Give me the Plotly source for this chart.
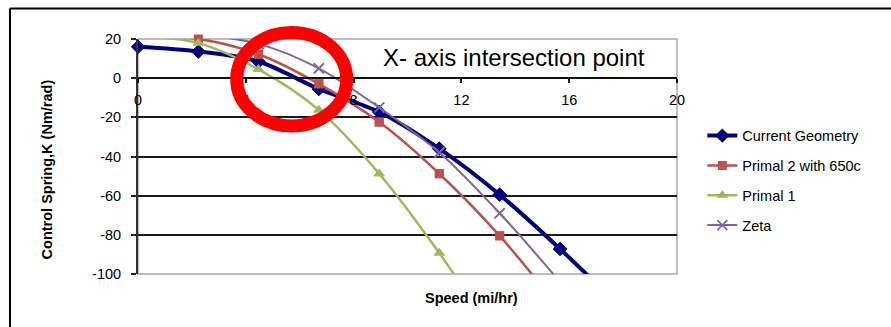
import plotly.graph_objects as go

# ---- data (speed in mi/hr, control spring K in Nm/rad) ----
speed = [0, 2.24, 4.47, 6.71, 8.95, 11.18, 13.42, 15.66, 17.9]
current_geometry = [16, 13.6, 8.5, -5.5, -17.3, -36, -59.5, -87.2, -117]
primal2_650c = [21.5, 20, 12.2, -2.9, -22.4, -48.8, -80.5, -118]
primal1 = [21.5, 17.9, 4.5, -16.2, -48.8, -89.3, -135]
zeta = [22, 22, 17.5, 5, -15, -38, -69, -104]

x_ticks = [0, 4, 8, 12, 16, 20]
y_ticks = [20, 0, -20, -40, -60, -80, -100]
Y_MIN, Y_MAX = -100, 20

series = [
    ("Current Geometry", current_geometry, "#000080", 4, "diamond", 11),
    ("Primal 2 with 650c", primal2_650c, "#C0504D", 2.5, "square", 9),
    ("Primal 1", primal1, "#9BBB59", 2.5, "triangle-up", 10),
    ("Zeta", zeta, "#8064A2", 2, "x-thin", 10),
]

FONT = "Liberation Sans, Arial, sans-serif"
fig = go.Figure()
for name, ys, color, lw, sym, ms in series:
    xs = speed[:len(ys)]
    mk = dict(symbol=sym, size=ms, color=color)
    if sym == "x-thin":
        mk["line"] = dict(color=color, width=1.6)
    fig.add_trace(go.Scatter(
        x=xs, y=ys, mode="lines+markers", name=name, legendgroup=name,
        line=dict(color=color, width=lw, shape="spline", smoothing=0.9),
        marker=mk,
    ))
    # markers drawn unclipped for the points that are inside the axis range
    vx = [a for a, b in zip(xs, ys) if Y_MIN <= b <= Y_MAX]
    vy = [b for b in ys if Y_MIN <= b <= Y_MAX]
    fig.add_trace(go.Scatter(
        x=vx, y=vy, mode="markers", showlegend=False, legendgroup=name,
        marker=mk, cliponaxis=False, hoverinfo="skip",
    ))

fig.update_layout(
    width=891, height=327,
    margin=dict(l=138, r=214, t=39, b=53),
    paper_bgcolor="white", plot_bgcolor="white",
    font=dict(family=FONT, size=14.5, color="black"),
    showlegend=True,
    legend=dict(x=1.047, y=0.657, xanchor="left", yanchor="top",
                font=dict(family=FONT, size=14.5, color="black"),
                traceorder="grouped", tracegroupgap=8,
                bgcolor="rgba(0,0,0,0)"),
    xaxis=dict(range=[0, 20], tickvals=x_ticks, ticktext=[str(v) for v in x_ticks],
               anchor="free", position=(0 - Y_MIN) / (Y_MAX - Y_MIN),
               showline=True, linecolor="#111", linewidth=2,
               ticks="outside", ticklen=4, tickcolor="#111", tickwidth=1.5,
               showgrid=False, zeroline=False, ticklabelstandoff=4,
               tickfont=dict(family=FONT, size=14.5, color="black")),
    yaxis=dict(range=[Y_MIN, Y_MAX], tickvals=y_ticks, ticktext=[str(v) for v in y_ticks],
               showline=True, linecolor="#333", linewidth=2,
               ticks="outside", ticklen=5, tickcolor="#222", tickwidth=1.5,
               showgrid=True, gridcolor="#1a1a1a", gridwidth=1.5,
               zeroline=False, ticklabelstandoff=7,
               tickfont=dict(family=FONT, size=14.5, color="black")),
)

# plot-area border (gray) and outer frame
fig.add_shape(type="rect", xref="paper", yref="paper", x0=0, x1=1, y0=0, y1=1,
              line=dict(color="#A6A6A6", width=1.5), layer="between")
fig.add_shape(type="line", xref="paper", yref="paper", x0=-0.2375, x1=1.41, y0=1.13, y1=1.13,
              line=dict(color="black", width=2))
fig.add_shape(type="line", xref="paper", yref="paper", x0=-0.2375, x1=-0.2375, y0=-0.23, y1=1.13,
              line=dict(color="black", width=2))
# red highlight ring
fig.add_shape(type="circle", xref="paper", yref="paper", x0=0.1831, x1=0.3872, y0=0.6298, y1=1.0281,
              line=dict(color="#FF0000", width=13), layer="above")

fig.add_annotation(text="X- axis intersection point", xref="paper", yref="paper",
                   x=0.6976, y=0.921, xanchor="center", yanchor="middle", showarrow=False,
                   font=dict(family=FONT, size=24, color="black"))
fig.add_annotation(text="<b>Speed (mi/hr)</b>", xref="paper", yref="paper",
                   x=0.619, y=-0.102, xanchor="center", yanchor="middle", showarrow=False,
                   font=dict(family=FONT, size=14.5, color="black"))
fig.add_annotation(text="<b>Control Spring,K (Nm/rad)</b>", xref="paper", yref="paper",
                   x=-0.168, y=0.447, xanchor="center", yanchor="middle", showarrow=False,
                   textangle=-90, font=dict(family=FONT, size=14.5, color="black"))

fig.write_html("out.html", config={"displayModeBar": False},
               post_script="document.body.style.margin='0';document.body.style.overflow='hidden';")
